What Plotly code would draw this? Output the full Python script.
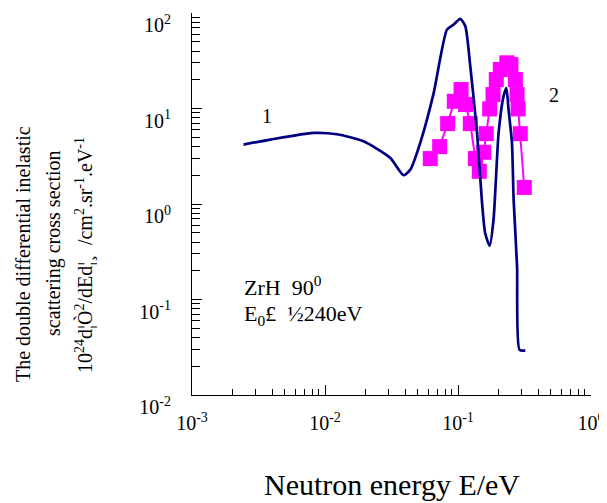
import plotly.graph_objects as go

# Curve 1 (calculated), E in eV, cross section
calc_E = [0.00244, 0.00388, 0.0082, 0.0123, 0.0195, 0.031, 0.039, 0.0438, 0.052, 0.0656,
          0.0826, 0.0927, 0.104, 0.1135, 0.1237, 0.139, 0.151, 0.160, 0.173, 0.185,
          0.202, 0.220, 0.231, 0.240, 0.2545, 0.262, 0.278, 0.290, 0.3206]
calc_y = [4.19, 4.72, 5.55, 5.37, 4.53, 3.03, 2.0, 2.29, 4.37, 14.5,
          67, 75.7, 86.9, 72.8, 27.7, 5.55, 1.11, 0.497, 0.366, 0.684,
          5.55, 13.4, 16.4, 9.7, 4.35, 1.11, 0.222, 0.0297, 0.0292]

# Curve 2 (experiment)
exp_E = [0.0619, 0.0728, 0.0836, 0.0938, 0.1054, 0.114, 0.1237, 0.135, 0.1445, 0.156,
         0.163, 0.173, 0.1834, 0.194, 0.208, 0.233, 0.25, 0.27, 0.278, 0.283, 0.294, 0.315]
exp_y = [2.99, 3.99, 6.95, 11.9, 15.8, 11.0, 6.95, 2.99, 2.2, 3.48,
         5.45, 9.9, 14.0, 20.1, 25.6, 30.1, 28.8, 20.1, 14.0, 9.9, 5.45, 1.49]

x_ticks = [1e-3, 1e-2, 1e-1, 1]
x_ticktext = ["10<sup>-3</sup>", "10<sup>-2</sup>", "10<sup>-1</sup>", "10<sup>0</sup>"]
y_ticks = [1e-2, 1e-1, 1, 10, 100]
y_ticktext = ["10<sup>-2</sup>", "10<sup>-1</sup>", "10<sup>0</sup>", "10<sup>1</sup>", "10<sup>2</sup>"]

FONT = "Liberation Serif"

def minor_vals(lo, hi):
    out = []
    for n in range(lo, hi):
        for k in range(2, 10):
            out.append(k * 10 ** n)
    return out

fig = go.Figure()
fig.add_trace(go.Scatter(x=exp_E, y=exp_y, mode="lines+markers",
                         line=dict(color="#FF00FF", width=2),
                         marker=dict(symbol="square", size=15, color="#FF00FF"),
                         showlegend=False))
fig.add_trace(go.Scatter(x=calc_E, y=calc_y, mode="lines",
                         line=dict(color="#000080", width=2.7, shape="spline", smoothing=0.6),
                         showlegend=False))

fig.update_xaxes(type="log", range=[-3, 0], showgrid=False, zeroline=False,
                 showline=True, linecolor="black", linewidth=1, automargin=False,
                 tickmode="array", tickvals=x_ticks, ticktext=x_ticktext,
                 ticks="inside", ticklen=10, tickcolor="black",
                 tickfont=dict(family=FONT, size=20, color="black"),
                 ticklabelstandoff=10, ticklabeloverflow="allow",
                 minor=dict(tickmode="array", tickvals=minor_vals(-3, 0), ticks="inside",
                            ticklen=6, tickcolor="black", showgrid=False))
fig.update_yaxes(type="log", range=[-2, 2], showgrid=False, zeroline=False,
                 showline=True, linecolor="black", linewidth=1, automargin=False,
                 tickmode="array", tickvals=y_ticks, ticktext=y_ticktext,
                 ticks="inside", ticklen=10, tickcolor="black",
                 tickfont=dict(family=FONT, size=20, color="black"),
                 ticklabelstandoff=16, ticklabelshift=12, ticklabeloverflow="allow",
                 minor=dict(tickmode="array", tickvals=minor_vals(-2, 2), ticks="inside",
                            ticklen=8, tickcolor="black", showgrid=False))

ann = []
def txt(x, y, s, size=20, xanchor="center", **kw):
    ann.append(dict(x=x, y=y, text=s, showarrow=False, xanchor=xanchor, yanchor="middle",
                    font=dict(family=FONT, size=size, color="black"), **kw))

txt(-2.436, 0.918, "1")
txt(-0.276, 1.138, "2")
txt(-2.624, -0.86, "ZrH\u00a0\u00a090<sup>0</sup>", size=22, xanchor="left")
txt(-2.624, -1.16, "E<sub>0</sub>£\u00a0\u00a0½240eV", size=22, xanchor="left")

# page offset (body margin) compensation
OFF = 8
W, H = 607 - OFF, 503 - OFF
L, R, T, B = 192 - OFF, 16, 13 - OFF, 108
pw, ph = W - L - R, H - T - B
def px(xp): return (xp - OFF - L) / pw
def py(yp): return (H - B - (yp - OFF)) / ph

ylines = [(23, 254, "The double differential inelastic"),
          (53, 243, "scattering cross section"),
          (85, 255, "10<sup>24</sup>d¦Ò<sup>2</sup>/dEd¦¸  /cm<sup>2</sup>.sr<sup>-1</sup>.eV<sup>-1</sup>")]
for xp, yp, s in ylines:
    ann.append(dict(x=px(xp), y=py(yp), xref="paper", yref="paper", text=s, showarrow=False,
                    textangle=-90, xanchor="center", yanchor="middle",
                    font=dict(family=FONT, size=20, color="black")))
ann.append(dict(x=px(392), y=py(484), xref="paper", yref="paper", text="Neutron energy E/eV",
                showarrow=False, xanchor="center", yanchor="middle",
                font=dict(family=FONT, size=30, color="black")))
fig.update_layout(annotations=ann, width=W, height=H,
                  margin=dict(l=L, r=R, t=T, b=B, autoexpand=False),
                  paper_bgcolor="white", plot_bgcolor="white")
fig.write_html("out.html")
